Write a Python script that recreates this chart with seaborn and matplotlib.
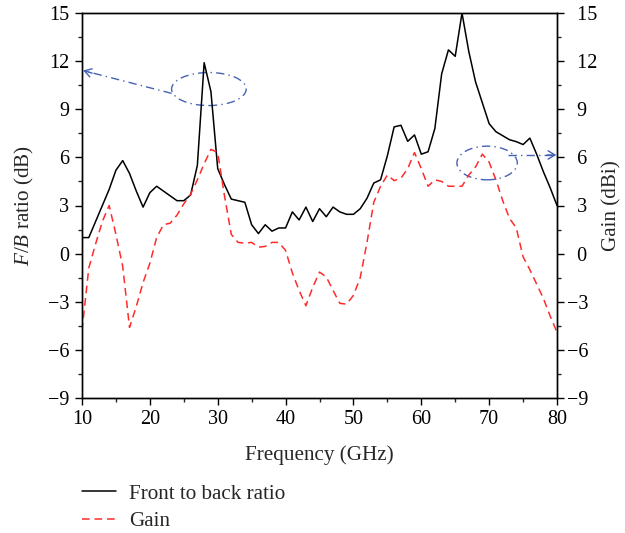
import numpy as np
import pandas as pd
import matplotlib
matplotlib.use("Agg")
import matplotlib.pyplot as plt
from matplotlib.patches import Ellipse
from matplotlib.ticker import MultipleLocator
import seaborn as sns

# ---- data ----
freq = list(range(10, 81))
fb_ratio = [1.0, 1.0, 2.0, 3.0, 4.0, 5.2, 5.8, 5.0, 3.9, 2.9,
            3.8, 4.2, 3.9, 3.6, 3.3, 3.3, 3.65, 5.5, 11.9, 10.1,
            5.3, 4.3, 3.4, 3.3, 3.2, 1.8, 1.25, 1.8, 1.4, 1.6,
            1.6, 2.6, 2.1, 2.9, 2.0, 2.8, 2.3, 2.9, 2.6, 2.45,
            2.45, 2.8, 3.45, 4.4, 4.6, 6.1, 7.9, 8.0, 7.0, 7.4,
            6.2, 6.35, 7.8, 11.2, 12.7, 12.3, 15.0, 12.6, 10.7, 9.4,
            8.1, 7.6, 7.35, 7.1, 6.98, 6.8, 7.2, 6.2, 5.1, 4.1,
            3.0]
gain = [-4.8, -0.9, 0.6, 2.0, 3.0, 1.2, -0.8, -4.6, -3.3, -1.8,
        -0.6, 1.0, 1.8, 1.9, 2.4, 3.1, 3.7, 4.6, 5.6, 6.5,
        6.3, 3.6, 1.2, 0.7, 0.65, 0.7, 0.4, 0.45, 0.7, 0.7,
        0.2, -1.2, -2.3, -3.25, -2.1, -1.15, -1.45, -2.3, -3.1, -3.15,
        -2.6, -1.5, 0.7, 3.2, 4.2, 4.9, 4.55, 4.7, 5.3, 6.3,
        5.3, 4.2, 4.6, 4.5, 4.2, 4.2, 4.2, 4.9, 5.4, 6.2,
        5.7, 4.6, 3.3, 2.2, 1.6, -0.2, -1.0, -1.9, -2.8, -3.9,
        -4.9]
x_ticks = [10, 20, 30, 40, 50, 60, 70, 80]
y_ticks = [-9, -6, -3, 0, 3, 6, 9, 12, 15]

df = pd.DataFrame({"freq": freq, "fb": fb_ratio, "gain": gain})

# ---- style ----
sns.set_style("ticks")
plt.rcParams["font.family"] = ["Liberation Serif", "DejaVu Serif"]
plt.rcParams["mathtext.fontset"] = "custom"
plt.rcParams["mathtext.rm"] = "Liberation Serif"
plt.rcParams["mathtext.it"] = "Liberation Serif:italic"
FS_TICK = 14.5
FS = 15.2
BLUE = "#4563b5"
RED = "#ff2b2b"

fig = plt.figure(figsize=(6.25, 5.33), dpi=100)
ax = fig.add_axes([82 / 625, 1 - 398 / 533, (557 - 82) / 625, (398 - 13) / 533])
ax2 = ax.twinx()

sns.lineplot(data=df, x="freq", y="fb", ax=ax, color="black", lw=1.1,
             label="Front to back ratio", legend=False)
sns.lineplot(data=df, x="freq", y="gain", ax=ax2, color=RED, lw=1.1,
             linestyle=(0, (5.0, 3.2)), label="Gain", legend=False)

for a in (ax, ax2):
    a.set_xlim(10, 80)
    a.set_ylim(-9, 15)
    for s in a.spines.values():
        s.set_linewidth(1.0)
        s.set_color("black")

ax.set_xticks(x_ticks)
ax.xaxis.set_minor_locator(MultipleLocator(5))
ax.set_yticks(y_ticks)
ax.yaxis.set_minor_locator(MultipleLocator(1.5))
ax2.set_yticks(y_ticks)
ax2.yaxis.set_minor_locator(MultipleLocator(1.5))
ax2.set_yticklabels([(("\u2212" + str(abs(v))) if v < 0 else ("\u2007" + str(v))) for v in y_ticks])

ax.tick_params(axis="both", which="major", direction="out", length=5, width=1,
               labelsize=FS_TICK, colors="black", pad=4)
ax.tick_params(axis="both", which="minor", direction="out", length=3, width=1)
ax2.tick_params(axis="y", which="major", direction="out", length=5, width=1,
                labelsize=FS_TICK, colors="black", pad=2)
ax2.tick_params(axis="y", which="minor", direction="out", length=3, width=1)

ax.set_xlabel("Frequency (GHz)", fontsize=FS, labelpad=11)
ax.set_ylabel("$F$/$B$ ratio (dB)", fontsize=FS, labelpad=9)
ax2.set_ylabel("Gain (dBi)", fontsize=FS, labelpad=4)

# ---- annotations (ellipses + dash-dot arrows) ----
DASHDOT = (0, (6, 3, 1, 3))
ell1 = Ellipse((28.7, 10.26), 11.0, 2.06, fill=False, ec=BLUE, lw=1.0, linestyle=DASHDOT)
ell2 = Ellipse((69.7, 5.65), 8.9, 2.1, fill=False, ec=BLUE, lw=1.0, linestyle=DASHDOT)
ax.add_patch(ell1)
ax.add_patch(ell2)
ax.plot([23.2, 10.3], [9.99, 11.4], color=BLUE, lw=1.0, linestyle=DASHDOT)
ax.annotate("", xy=(10.15, 11.42), xytext=(11.5, 11.25),
            arrowprops=dict(arrowstyle="->,head_length=0.5,head_width=0.3",
                            color=BLUE, lw=1.0, shrinkA=0, shrinkB=0),
            annotation_clip=False)
ax.plot([72.8, 79.7], [6.15, 6.15], color=BLUE, lw=1.0, linestyle=DASHDOT)
ax.annotate("", xy=(79.9, 6.15), xytext=(78.5, 6.15),
            arrowprops=dict(arrowstyle="->,head_length=0.5,head_width=0.3",
                            color=BLUE, lw=1.0, shrinkA=0, shrinkB=0),
            annotation_clip=False)

# ---- legend below the axes ----
h1 = ax.get_lines()[0]
h2 = ax2.get_lines()[0]
fig.legend([h1, h2], ["Front to back ratio", "Gain"], loc="upper left",
           bbox_to_anchor=(82 / 625, 1 - 484 / 533), frameon=False,
           fontsize=FS, handlelength=1.6, handletextpad=0.62,
           labelspacing=0.35, borderpad=0, borderaxespad=0)

fig.savefig("out.png", dpi=100)
